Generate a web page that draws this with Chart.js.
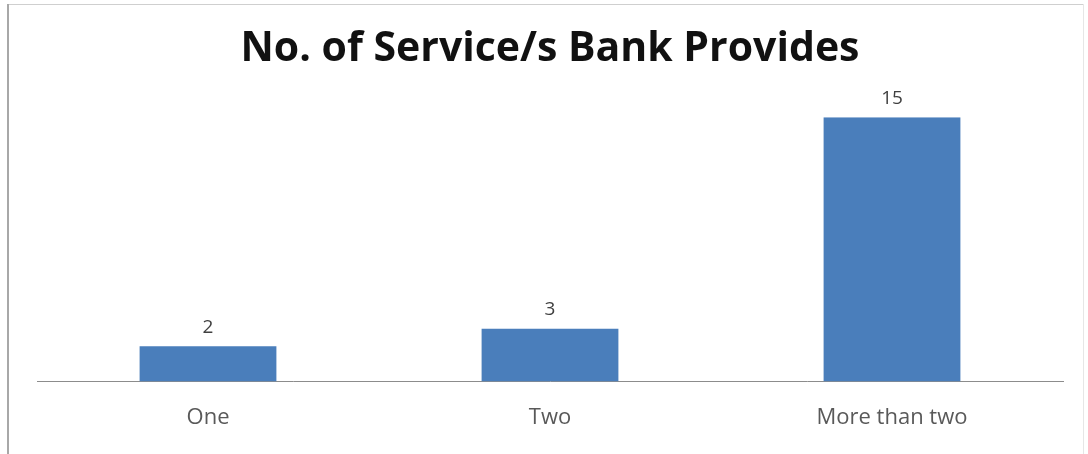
<!DOCTYPE html>
<html>
<head>
<meta charset="utf-8">
<title>No. of Service/s Bank Provides</title>
<script src="https://cdn.jsdelivr.net/npm/chart.js@4"></script>
<style>
  html, body { margin: 0; padding: 0; background: #fff; }
  #wrap { width: 1088px; height: 454px; position: relative; }
</style>
</head>
<body>
<div id="wrap"><canvas id="chart"></canvas></div>
<script>
const categories = ['One', 'Two', 'More than two'];
const counts = [2, 3, 15];

// frame around the whole chart, like the office chart border
const chartFrame = {
  id: 'chartFrame',
  beforeDraw: (chart) => {
    const { ctx } = chart;
    ctx.save();
    ctx.fillStyle = '#fff';
    ctx.fillRect(0, 0, chart.width, chart.height);
    ctx.lineWidth = 1;
    ctx.strokeStyle = '#cfcfcf';
    ctx.beginPath();
    ctx.moveTo(7, 4.5);
    ctx.lineTo(1083, 4.5);
    ctx.stroke();
    ctx.strokeStyle = '#e6e6e6';
    ctx.beginPath();
    ctx.moveTo(1083.5, 4);
    ctx.lineTo(1083.5, chart.height);
    ctx.stroke();
    ctx.lineWidth = 2;
    ctx.strokeStyle = '#a8a8a8';
    ctx.beginPath();
    ctx.moveTo(8, 4);
    ctx.lineTo(8, chart.height);
    ctx.stroke();
    ctx.restore();
  }
};

// value printed above each bar
const barValues = {
  id: 'barValues',
  afterDatasetsDraw: (chart) => {
    const { ctx } = chart;
    const meta = chart.getDatasetMeta(0);
    ctx.save();
    ctx.fillStyle = '#404040';
    ctx.font = '19px "Open Sans"';
    ctx.textAlign = 'center';
    ctx.textBaseline = 'middle';
    meta.data.forEach((bar, i) => {
      ctx.fillText(String(chart.data.datasets[0].data[i]), bar.x, bar.y - 19);
    });
    ctx.restore();
  }
};

new Chart(document.getElementById('chart'), {
  type: 'bar',
  data: {
    labels: categories,
    datasets: [{
      data: counts,
      backgroundColor: '#4a7ebb',
      borderWidth: 0,
      barPercentage: 0.4,
      categoryPercentage: 1
    }]
  },
  options: {
    responsive: true,
    maintainAspectRatio: false,
    animation: false,
    layout: {
      padding: { top: 0, left: 37, right: 25, bottom: 0 }
    },
    plugins: {
      legend: { display: false },
      tooltip: { enabled: false },
      title: {
        display: true,
        text: 'No. of Service/s Bank Provides',
        color: '#111',
        font: { family: 'Open Sans', size: 41, weight: 'bold', lineHeight: 1.2 },
        padding: { top: 25, bottom: 43 }
      }
    },
    scales: {
      x: {
        grid: { display: false, drawTicks: false },
        border: { display: true, color: '#8c8c8c', width: 1 },
        ticks: {
          color: '#595959',
          padding: 23,
          font: { family: 'Open Sans', size: 22, lineHeight: 1.2 }
        }
      },
      y: {
        display: false,
        min: 0,
        max: 15
      }
    }
  },
  plugins: [chartFrame, barValues]
});
</script>
</body>
</html>
